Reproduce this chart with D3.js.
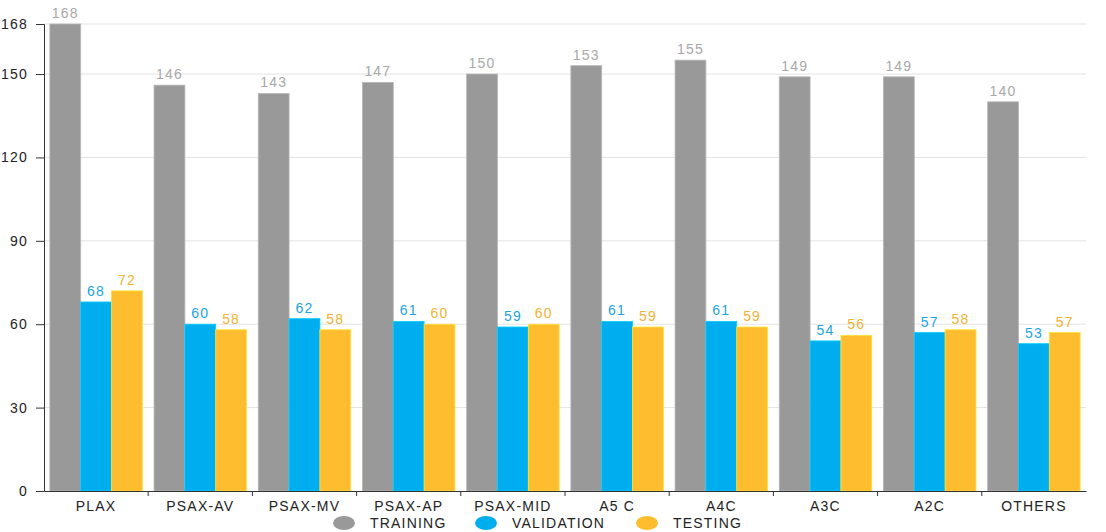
<!DOCTYPE html>
<html><head><meta charset="utf-8">
<script src="https://cdn.jsdelivr.net/npm/d3@7"></script>
<style>body{margin:0;background:#fff;} text{font-family:"Liberation Sans",Arial,sans-serif;}</style>
</head><body>
<svg id="c" width="1106" height="532"></svg>
<script>
const categories = ["PLAX","PSAX-AV","PSAX-MV","PSAX-AP","PSAX-MID","A5 C","A4C","A3C","A2C","OTHERS"];
const training = [168,146,143,147,150,153,155,149,149,140];
const validation = [68,60,62,61,59,61,61,54,57,53];
const testing = [72,58,58,60,60,59,59,56,58,57];
const seriesNames = ["TRAINING","VALIDATION","TESTING"];
const yTicks = [0,30,60,90,120,150,168];
const colors = ["#999999","#00aeef","#fdbd2e"];
const labelColors = ["#a8a8a8","#1aa5e0","#f2b233"];
const series = [training, validation, testing];

(function(){
const svg = d3.select("#c");
const mLeft = 44, mRight = 1086, mTop = 24, mBottom = 491;
const FS = 14, LS = 1.2;
const x = d3.scaleBand().domain(categories).range([mLeft, mRight]).paddingInner(0).paddingOuter(0);
const x1 = d3.scaleBand().domain(seriesNames).range([0, x.bandwidth()]).paddingInner(0).paddingOuter(0.19);
const y = d3.scaleLinear().domain([0,168]).range([mBottom, mTop]);

// gridlines
svg.append("g").selectAll("line").data(yTicks.filter(d=>d>0)).join("line")
  .attr("x1", mLeft).attr("x2", mRight).attr("y1", d=>y(d)).attr("y2", d=>y(d))
  .attr("stroke","#e3e3e3").attr("stroke-width",1);

// bars
const g = svg.append("g");
categories.forEach((c,i)=>{
  series.forEach((s,j)=>{
    g.append("rect")
      .attr("x", x(c)+x1(seriesNames[j]))
      .attr("y", y(s[i]))
      .attr("width", x1.bandwidth())
      .attr("height", y(0)-y(s[i]))
      .attr("fill", colors[j])
      .attr("stroke", d3.color(colors[j]).brighter(0.5))
      .attr("stroke-width", 0.8);
    g.append("text")
      .attr("x", x(c)+x1(seriesNames[j])+x1.bandwidth()/2)
      .attr("y", y(s[i])-6)
      .attr("text-anchor","middle")
      .attr("font-size", FS)
      .attr("letter-spacing", LS)
      .attr("fill", labelColors[j])
      .text(s[i]);
  });
});

// y axis
const ya = svg.append("g").attr("transform",`translate(${mLeft},0)`)
  .call(d3.axisLeft(y).tickValues(yTicks).tickSize(8).tickPadding(8));
ya.select(".domain").attr("stroke","#333");
ya.selectAll(".tick line").attr("stroke","#333");
ya.selectAll("text").attr("font-size",FS).attr("letter-spacing", LS).attr("fill","#222").attr("font-family","Liberation Sans, Arial, sans-serif");

// x axis
const xa = svg.append("g").attr("transform",`translate(0,${mBottom})`)
  .call(d3.axisBottom(x).tickSize(0).tickPadding(10));
xa.select(".domain").attr("stroke","#333");
xa.selectAll("text").attr("font-size",FS).attr("letter-spacing", LS).attr("fill","#222").attr("font-family","Liberation Sans, Arial, sans-serif");
// boundary ticks
svg.append("g").selectAll("line").data(categories.slice(1)).join("line")
  .attr("x1", d=>x(d)).attr("x2", d=>x(d)).attr("y1", mBottom).attr("y2", mBottom+5)
  .attr("stroke","#333");

// legend
const legX = [344, 486, 647];
const leg = svg.append("g");
seriesNames.forEach((n,j)=>{
  leg.append("ellipse").attr("cx", legX[j]).attr("cy", 523).attr("rx", 11).attr("ry", 7).attr("fill", colors[j]);
  leg.append("text").attr("x", legX[j]+26).attr("y", 528).attr("font-size", FS).attr("letter-spacing", LS).attr("fill","#222").text(n);
});
})();
</script>
</body></html>
